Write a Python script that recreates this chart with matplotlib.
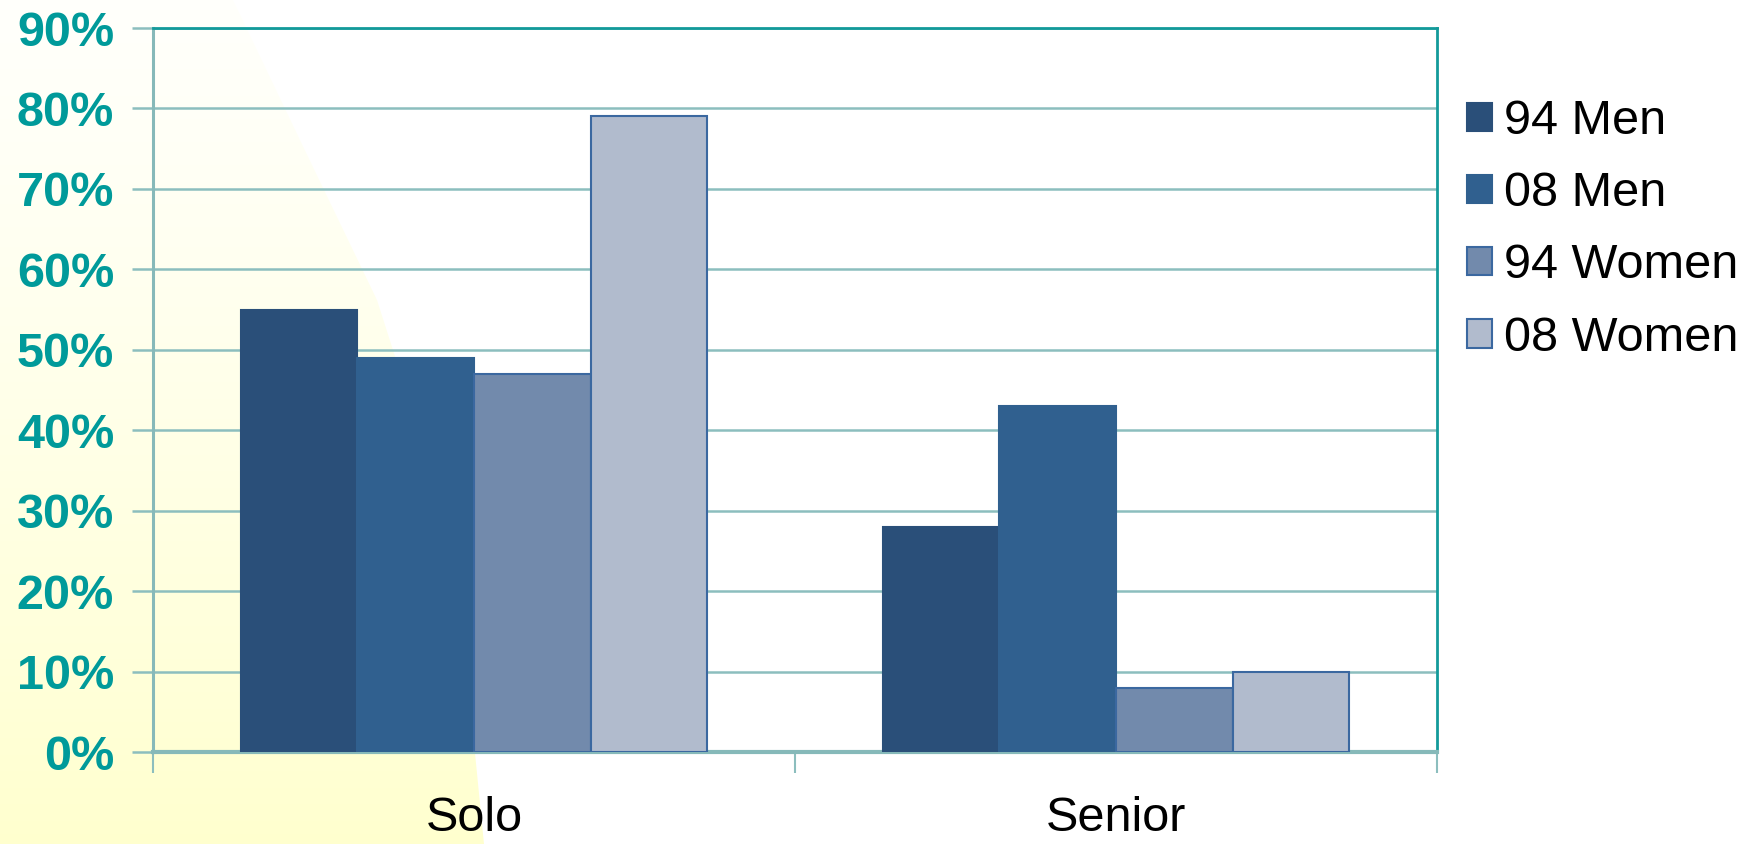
import numpy as np
import matplotlib
matplotlib.use("Agg")
import matplotlib.pyplot as plt
from matplotlib.patches import Polygon
from matplotlib.ticker import FuncFormatter

categories = ["Solo", "Senior"]
series_names = ["94 Men", "08 Men", "94 Women", "08 Women"]
values_94_men = [0.55, 0.28]
values_08_men = [0.49, 0.43]
values_94_women = [0.47, 0.08]
values_08_women = [0.79, 0.10]
series_values = [values_94_men, values_08_men, values_94_women, values_08_women]
y_ticks = [0.0, 0.1, 0.2, 0.3, 0.4, 0.5, 0.6, 0.7, 0.8, 0.9]

fill_colors = ["#2A4F79", "#30608F", "#728AAC", "#B1BBCD"]
edge_colors = ["#2A4F79", "#30608F", "#3B68A0", "#3B68A0"]

plt.rcParams['font.family'] = ['Liberation Sans', 'DejaVu Sans']

W, H = 1750, 844
fig = plt.figure(figsize=(W / 100, H / 100), dpi=100)
fig.patch.set_facecolor("white")

# background wedge with yellow gradient
bg = fig.add_axes([0, 0, 1, 1], zorder=-5)
bg.set_xlim(0, W)
bg.set_ylim(H, 0)
bg.axis("off")
img = np.zeros((256, 4, 4))
top = np.array([1.0, 1.0, 0.985])
bot = np.array([1.0, 1.0, 0.81])
for i in range(256):
    t = (i / 255.0) ** 1.2
    img[i, :, :3] = top * (1 - t) + bot * t
img[:, :, 3] = 1.0
im = bg.imshow(img, extent=[0, 500, H, 0], aspect="auto", zorder=0)
wedge = Polygon([(0, 0), (233, 0), (300, 140), (377, 300), (425, 450),
                 (455, 600), (475, 753), (484, H), (0, H)], closed=True,
                transform=bg.transData, facecolor="none", edgecolor="none")
bg.add_patch(wedge)
im.set_clip_path(wedge)

ax = fig.add_axes([153 / W, 1 - 752 / H, (1437 - 153) / W, (752 - 28) / H])
ax.set_facecolor("none")

n = len(series_values)
bar_w = 1 / 5.5
centers = np.arange(len(categories)) + 0.5
for k, (name, vals) in enumerate(zip(series_names, series_values)):
    xs = centers + (k - (n - 1) / 2) * bar_w
    ax.bar(xs, vals, width=bar_w, color=fill_colors[k], edgecolor=edge_colors[k],
           linewidth=1.5, label=name, zorder=3)

ax.set_xlim(0, len(categories))
ax.set_ylim(0, 0.9)
ax.set_yticks(y_ticks)
ax.yaxis.set_major_formatter(FuncFormatter(lambda v, p: f"{int(round(v * 100))}%"))
ax.grid(axis="y", color="#8CBEBE", linewidth=1.8, zorder=1)
ax.set_axisbelow(True)

ax.set_xticks(np.arange(len(categories) + 1))
ax.set_xticklabels([])
ax.set_xticks(centers, minor=True)
ax.set_xticklabels(categories, minor=True)
ax.tick_params(axis="x", which="major", length=15, width=1.5, color="#8CBEBE", direction="out")
ax.tick_params(axis="x", which="minor", length=0, pad=32, labelsize=35, labelcolor="black")
ax.tick_params(axis="y", length=15, width=1.8, color="#8CBEBE", direction="out", pad=13,
               labelsize=35, labelcolor="#009A9A")
for lab in ax.get_yticklabels():
    lab.set_fontweight("bold")

ax.spines["left"].set_color("#86B9B9")
ax.spines["left"].set_linewidth(2.2)
ax.spines["bottom"].set_color("#86B9B9")
ax.spines["bottom"].set_linewidth(3)
ax.spines["top"].set_color("#139A9A")
ax.spines["top"].set_linewidth(2)
ax.spines["right"].set_color("#139A9A")
ax.spines["right"].set_linewidth(2)

handles, labels = ax.get_legend_handles_labels()
leg = fig.legend(handles, labels, loc="upper left", bbox_to_anchor=(1467 / W, 1 - 99 / H),
                 frameon=False, fontsize=35, handlelength=0.52, handleheight=0.52,
                 handletextpad=0.25, labelspacing=0.56, borderpad=0, borderaxespad=0)

fig.savefig("out.png", dpi=100)
